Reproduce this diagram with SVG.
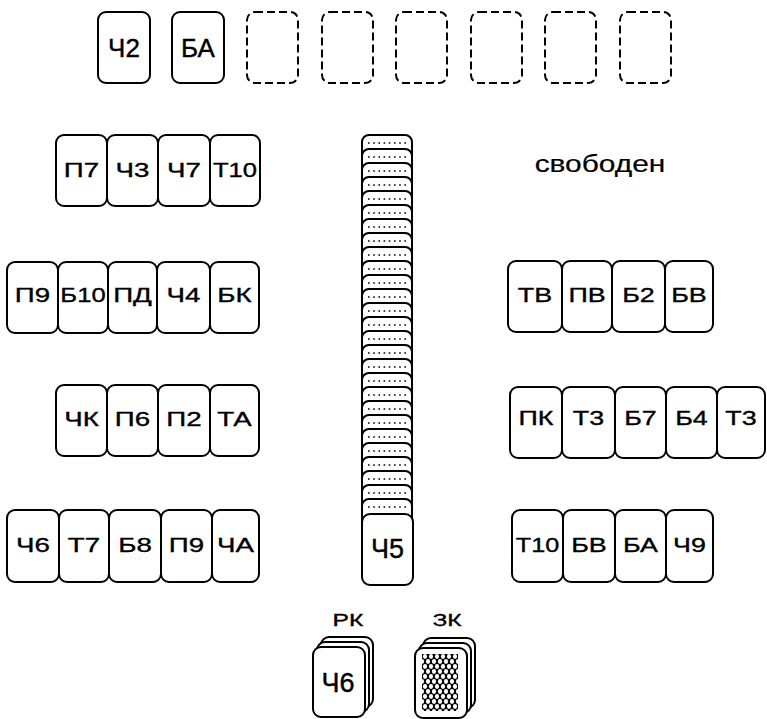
<svg xmlns="http://www.w3.org/2000/svg" width="767" height="719" viewBox="0 0 767 719">
  <style>
    .card { fill: #fff; stroke: #000; stroke-width: 2; }
    .slot { fill: none; stroke: #000; stroke-width: 2; stroke-dasharray: 8 4; }
    .strip { fill: #fff; stroke: #000; stroke-width: 2; }
    .dots { stroke: #000; stroke-width: 1.6; stroke-dasharray: 1.6 3.6; }
    .lbl { font-family: "Liberation Sans", Arial, sans-serif; font-size: 21px; fill: #000; stroke: #000; stroke-width: 0.35; text-anchor: middle; }
    .big { font-family: "Liberation Sans", Arial, sans-serif; font-size: 26px; fill: #000; stroke: #000; stroke-width: 0.4; text-anchor: middle; }
  </style>
  <defs>
    <pattern id="back" width="6" height="10" patternUnits="userSpaceOnUse" x="422" y="654">
      <rect width="6" height="10" fill="#000"/>
      <ellipse cx="3" cy="2.5" rx="2.1" ry="2.4" fill="#fff"/>
      <ellipse cx="0" cy="7.5" rx="2.1" ry="2.4" fill="#fff"/>
      <ellipse cx="6" cy="7.5" rx="2.1" ry="2.4" fill="#fff"/>
    </pattern>
  </defs>

  <!-- foundation row -->
  <g id="foundation">
    <g id="f1"><rect class="card" x="98" y="12" width="52" height="71" rx="8"/><text class="big" x="124" y="57">Ч2</text></g>
    <g id="f2"><rect class="card" x="172" y="12" width="52" height="71" rx="8"/><text class="big" x="198" y="57">БА</text></g>
    <g id="f3"><rect class="slot" x="247" y="12" width="51" height="71" rx="8"/></g>
    <g id="f4"><rect class="slot" x="322" y="12" width="51" height="71" rx="8"/></g>
    <g id="f5"><rect class="slot" x="396" y="12" width="51" height="71" rx="8"/></g>
    <g id="f6"><rect class="slot" x="471" y="12" width="51" height="71" rx="8"/></g>
    <g id="f7"><rect class="slot" x="545" y="12" width="51" height="71" rx="8"/></g>
    <g id="f8"><rect class="slot" x="620" y="12" width="51" height="71" rx="8"/></g>
  </g>

  <!-- left tableau -->
  <g id="left1">
    <rect class="card" x="56" y="135" width="51" height="71" rx="8"/><text class="lbl" transform="translate(81.5,177) scale(1.32,1)">П7</text>
    <rect class="card" x="107" y="135" width="51" height="71" rx="8"/><text class="lbl" transform="translate(132.5,177) scale(1.32,1)">Ч3</text>
    <rect class="card" x="158" y="135" width="52" height="71" rx="8"/><text class="lbl" transform="translate(184,177) scale(1.32,1)">Ч7</text>
    <rect class="card" x="210" y="135" width="50" height="71" rx="8"/><text class="lbl" transform="translate(235,177) scale(1.22,1)">Т10</text>
  </g>
  <g id="left2">
    <rect class="card" x="7" y="262" width="51" height="71" rx="8"/><text class="lbl" transform="translate(32.5,302) scale(1.32,1)">П9</text>
    <rect class="card" x="58" y="262" width="50" height="71" rx="8"/><text class="lbl" transform="translate(83,302) scale(1.22,1)">Б10</text>
    <rect class="card" x="108" y="262" width="49" height="71" rx="8"/><text class="lbl" transform="translate(132.5,302) scale(1.32,1)">ПД</text>
    <rect class="card" x="157" y="262" width="53" height="71" rx="8"/><text class="lbl" transform="translate(183.5,302) scale(1.32,1)">Ч4</text>
    <rect class="card" x="210" y="262" width="49" height="71" rx="8"/><text class="lbl" transform="translate(234.5,302) scale(1.32,1)">БК</text>
  </g>
  <g id="left3">
    <rect class="card" x="56" y="385" width="51" height="71" rx="8"/><text class="lbl" transform="translate(81.5,426) scale(1.32,1)">ЧК</text>
    <rect class="card" x="107" y="385" width="51" height="71" rx="8"/><text class="lbl" transform="translate(132.5,426) scale(1.32,1)">П6</text>
    <rect class="card" x="158" y="385" width="52" height="71" rx="8"/><text class="lbl" transform="translate(184,426) scale(1.32,1)">П2</text>
    <rect class="card" x="210" y="385" width="49" height="71" rx="8"/><text class="lbl" transform="translate(234.5,426) scale(1.32,1)">ТА</text>
  </g>
  <g id="left4">
    <rect class="card" x="7" y="510" width="52" height="72" rx="8"/><text class="lbl" transform="translate(33,552) scale(1.32,1)">Ч6</text>
    <rect class="card" x="59" y="510" width="50" height="72" rx="8"/><text class="lbl" transform="translate(84,552) scale(1.32,1)">Т7</text>
    <rect class="card" x="109" y="510" width="52" height="72" rx="8"/><text class="lbl" transform="translate(135,552) scale(1.32,1)">Б8</text>
    <rect class="card" x="161" y="510" width="51" height="72" rx="8"/><text class="lbl" transform="translate(186.5,552) scale(1.32,1)">П9</text>
    <rect class="card" x="212" y="510" width="47" height="72" rx="8"/><text class="lbl" transform="translate(235.5,552) scale(1.32,1)">ЧА</text>
  </g>

  <!-- right tableau -->
  <g id="right1">
    <rect class="card" x="508" y="261" width="54" height="71" rx="8"/><text class="lbl" transform="translate(535,302) scale(1.28,1)">ТВ</text>
    <rect class="card" x="562" y="261" width="50" height="71" rx="8"/><text class="lbl" transform="translate(587,302) scale(1.28,1)">ПВ</text>
    <rect class="card" x="612" y="261" width="53" height="71" rx="8"/><text class="lbl" transform="translate(638.5,302) scale(1.28,1)">Б2</text>
    <rect class="card" x="665" y="261" width="48" height="71" rx="8"/><text class="lbl" transform="translate(689,302) scale(1.28,1)">БВ</text>
  </g>
  <g id="right2">
    <rect class="card" x="510" y="387" width="52" height="71" rx="8"/><text class="lbl" transform="translate(536,425) scale(1.28,1)">ПК</text>
    <rect class="card" x="562" y="387" width="53" height="71" rx="8"/><text class="lbl" transform="translate(588.5,425) scale(1.28,1)">Т3</text>
    <rect class="card" x="615" y="387" width="51" height="71" rx="8"/><text class="lbl" transform="translate(640.5,425) scale(1.28,1)">Б7</text>
    <rect class="card" x="666" y="387" width="51" height="71" rx="8"/><text class="lbl" transform="translate(691.5,425) scale(1.28,1)">Б4</text>
    <rect class="card" x="717" y="387" width="48" height="71" rx="8"/><text class="lbl" transform="translate(741,425) scale(1.28,1)">Т3</text>
  </g>
  <g id="right3">
    <rect class="card" x="512" y="510" width="51" height="72" rx="8"/><text class="lbl" transform="translate(537.5,552) scale(1.2,1)">Т10</text>
    <rect class="card" x="563" y="510" width="52" height="72" rx="8"/><text class="lbl" transform="translate(589,552) scale(1.28,1)">БВ</text>
    <rect class="card" x="615" y="510" width="51" height="72" rx="8"/><text class="lbl" transform="translate(640.5,552) scale(1.28,1)">БА</text>
    <rect class="card" x="666" y="510" width="47" height="72" rx="8"/><text class="lbl" transform="translate(689.5,552) scale(1.28,1)">Ч9</text>
  </g>

  <g id="free-note">
    <text class="lbl" transform="translate(600,172) scale(1.3,1)" style="font-size:23px;stroke-width:0.2">свободен</text>
  </g>

  <!-- central overlapping column: each strip is a card edge -->
  <g id="column">
    <g id="strips">
      <rect class="strip" x="362" y="135" width="50" height="40" rx="7"/><line class="dots" x1="368" y1="143" x2="408" y2="143"/>
      <rect class="strip" x="362" y="149" width="50" height="40" rx="7"/><line class="dots" x1="368" y1="157" x2="408" y2="157"/>
      <rect class="strip" x="362" y="163" width="50" height="40" rx="7"/><line class="dots" x1="368" y1="171" x2="408" y2="171"/>
      <rect class="strip" x="362" y="177" width="50" height="40" rx="7"/><line class="dots" x1="368" y1="185" x2="408" y2="185"/>
      <rect class="strip" x="362" y="191" width="50" height="40" rx="7"/><line class="dots" x1="368" y1="199" x2="408" y2="199"/>
      <rect class="strip" x="362" y="205" width="50" height="40" rx="7"/><line class="dots" x1="368" y1="213" x2="408" y2="213"/>
      <rect class="strip" x="362" y="219" width="50" height="40" rx="7"/><line class="dots" x1="368" y1="227" x2="408" y2="227"/>
      <rect class="strip" x="362" y="233" width="50" height="40" rx="7"/><line class="dots" x1="368" y1="241" x2="408" y2="241"/>
      <rect class="strip" x="362" y="247" width="50" height="40" rx="7"/><line class="dots" x1="368" y1="255" x2="408" y2="255"/>
      <rect class="strip" x="362" y="261" width="50" height="40" rx="7"/><line class="dots" x1="368" y1="269" x2="408" y2="269"/>
      <rect class="strip" x="362" y="275" width="50" height="40" rx="7"/><line class="dots" x1="368" y1="283" x2="408" y2="283"/>
      <rect class="strip" x="362" y="289" width="50" height="40" rx="7"/><line class="dots" x1="368" y1="297" x2="408" y2="297"/>
      <rect class="strip" x="362" y="303" width="50" height="40" rx="7"/><line class="dots" x1="368" y1="311" x2="408" y2="311"/>
      <rect class="strip" x="362" y="317" width="50" height="40" rx="7"/><line class="dots" x1="368" y1="325" x2="408" y2="325"/>
      <rect class="strip" x="362" y="331" width="50" height="40" rx="7"/><line class="dots" x1="368" y1="339" x2="408" y2="339"/>
      <rect class="strip" x="362" y="345" width="50" height="40" rx="7"/><line class="dots" x1="368" y1="353" x2="408" y2="353"/>
      <rect class="strip" x="362" y="359" width="50" height="40" rx="7"/><line class="dots" x1="368" y1="367" x2="408" y2="367"/>
      <rect class="strip" x="362" y="373" width="50" height="40" rx="7"/><line class="dots" x1="368" y1="381" x2="408" y2="381"/>
      <rect class="strip" x="362" y="387" width="50" height="40" rx="7"/><line class="dots" x1="368" y1="395" x2="408" y2="395"/>
      <rect class="strip" x="362" y="401" width="50" height="40" rx="7"/><line class="dots" x1="368" y1="409" x2="408" y2="409"/>
      <rect class="strip" x="362" y="415" width="50" height="40" rx="7"/><line class="dots" x1="368" y1="423" x2="408" y2="423"/>
      <rect class="strip" x="362" y="429" width="50" height="40" rx="7"/><line class="dots" x1="368" y1="437" x2="408" y2="437"/>
      <rect class="strip" x="362" y="443" width="50" height="40" rx="7"/><line class="dots" x1="368" y1="451" x2="408" y2="451"/>
      <rect class="strip" x="362" y="457" width="50" height="40" rx="7"/><line class="dots" x1="368" y1="465" x2="408" y2="465"/>
      <rect class="strip" x="362" y="471" width="50" height="40" rx="7"/><line class="dots" x1="368" y1="479" x2="408" y2="479"/>
      <rect class="strip" x="362" y="485" width="50" height="40" rx="7"/><line class="dots" x1="368" y1="493" x2="408" y2="493"/>
      <rect class="strip" x="362" y="499" width="50" height="40" rx="7"/><line class="dots" x1="368" y1="507" x2="408" y2="507"/>
    </g>
    <g id="c5"><rect class="card" x="362" y="514" width="51" height="71" rx="8"/><text class="big" x="387.5" y="558" style="font-size:27px">Ч5</text></g>
  </g>

  <!-- discard pile -->
  <g id="discard">
    <text class="lbl" transform="translate(348,626) scale(1.45,1)" style="font-size:17px">РК</text>
    <rect class="card" x="321" y="637" width="52" height="70" rx="8"/>
    <rect class="card" x="317" y="642" width="52" height="70" rx="8"/>
    <rect class="card" x="313" y="647" width="52" height="70" rx="8"/>
    <text class="big" x="338" y="692" style="font-size:27px">Ч6</text>
  </g>

  <!-- stock pile -->
  <g id="stock">
    <text class="lbl" transform="translate(447,626) scale(1.45,1)" style="font-size:17px">ЗК</text>
    <rect class="card" x="423" y="638" width="52" height="70" rx="8"/>
    <rect class="card" x="419" y="643" width="52" height="70" rx="8"/>
    <rect class="card" x="415" y="648" width="52" height="70" rx="8"/>
    <rect x="422" y="654" width="36" height="57" fill="url(#back)"/>
  </g>
</svg>
